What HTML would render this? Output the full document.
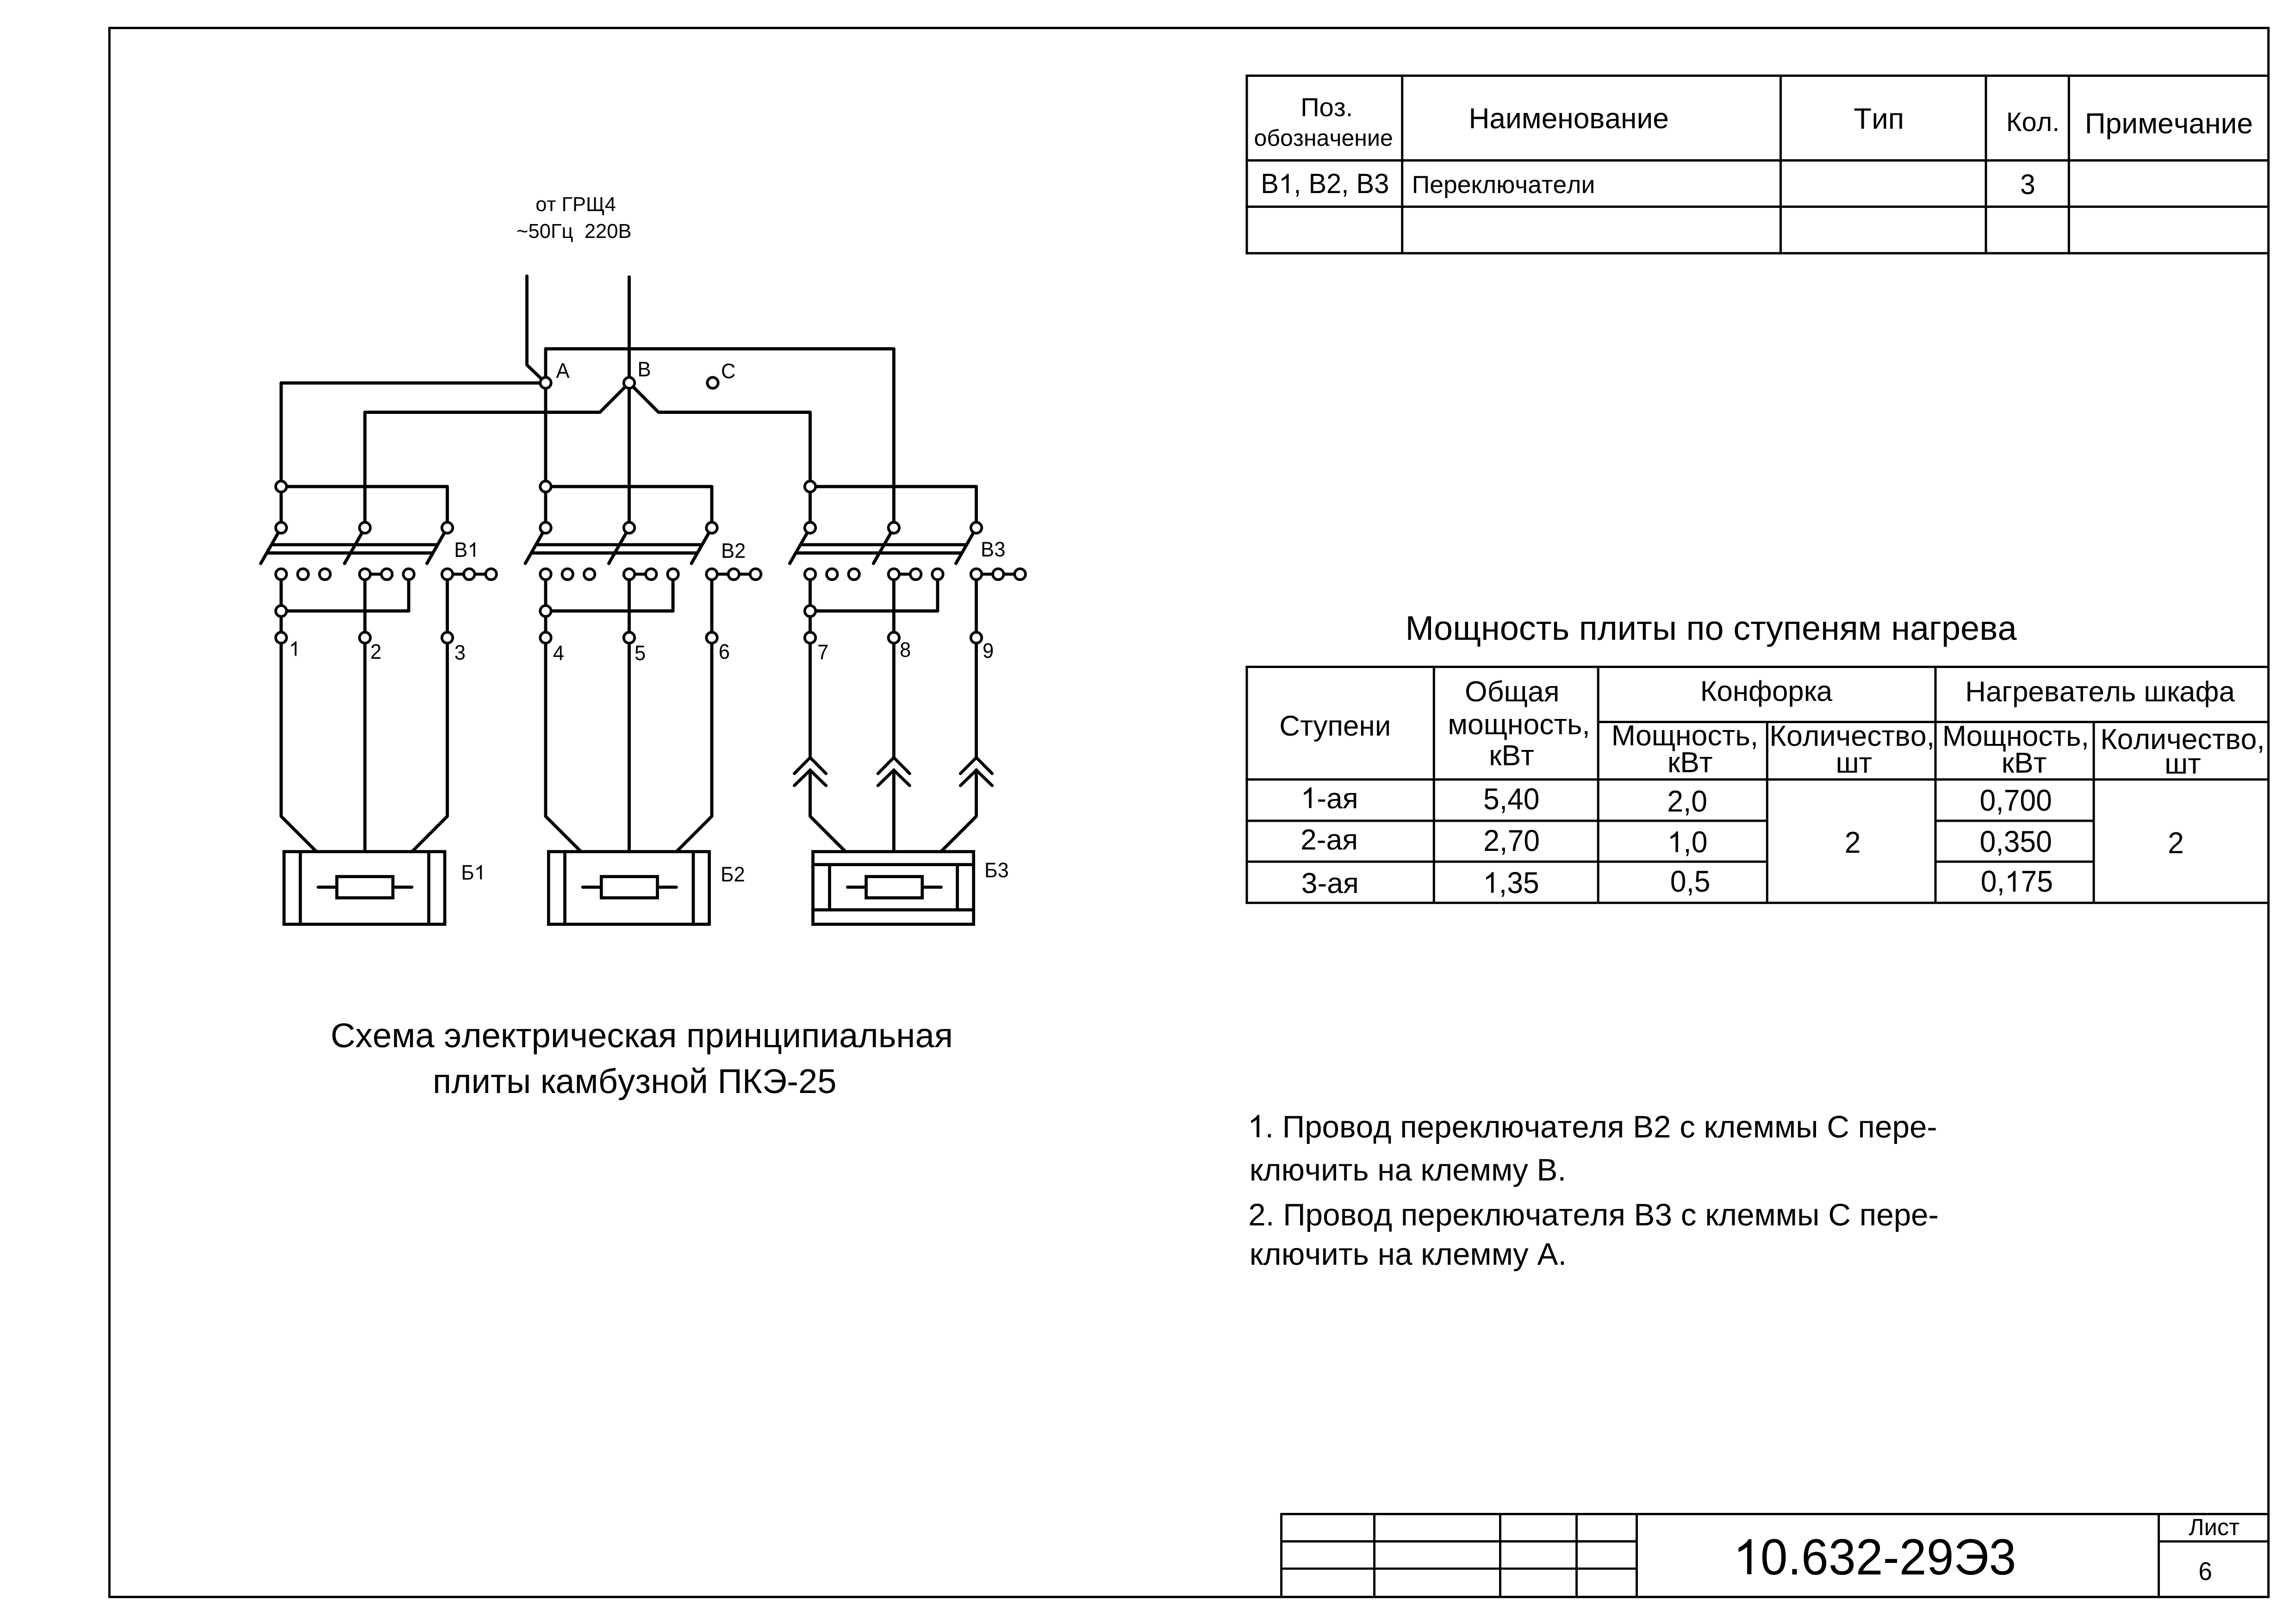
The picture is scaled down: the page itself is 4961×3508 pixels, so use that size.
<!DOCTYPE html>
<html><head><meta charset="utf-8"><title>10.632-29ЭЗ</title>
<style>
html,body{margin:0;padding:0;background:#fff;}
body{width:4961px;height:3508px;overflow:hidden;}
svg{display:block;will-change:transform;}
text{font-family:"Liberation Sans",sans-serif;fill:#000;font-kerning:none;white-space:pre;text-rendering:geometricPrecision;}
.t{stroke:#000;stroke-width:5;fill:none;stroke-linecap:butt;}
.b{stroke:#000;stroke-width:4.9;fill:none;}
.w{stroke:#000;stroke-width:6.9;fill:none;stroke-linecap:round;stroke-linejoin:round;}
.wb{stroke:#000;stroke-width:6.8;fill:none;stroke-linecap:butt;}
.wl{stroke:#000;stroke-width:6.6;fill:none;stroke-linecap:round;}
.wc{stroke:#000;stroke-width:6.6;fill:none;stroke-linecap:round;stroke-linejoin:miter;}
.bx{stroke:#000;stroke-width:6.7;fill:none;stroke-linejoin:miter;}
.c{stroke:#000;stroke-width:5.7;fill:#fff;}
.g{fill:#000;stroke:none;}
</style></head><body>
<svg width="4961" height="3508" viewBox="0 0 4961 3508">
<rect x="236.4" y="60.4" width="4665.05" height="3389.2" class="t"/>
<line x1="2691.5" y1="163.4" x2="4901.45" y2="163.4" class="t"/>
<line x1="2691.5" y1="346.4" x2="4901.45" y2="346.4" class="t"/>
<line x1="2691.5" y1="446.4" x2="4901.45" y2="446.4" class="t"/>
<line x1="2691.5" y1="547.0" x2="4901.45" y2="547.0" class="t"/>
<line x1="2694.0" y1="163.4" x2="2694.0" y2="547.0" class="t"/>
<line x1="3029.7" y1="163.4" x2="3029.7" y2="547.0" class="t"/>
<line x1="3847.5" y1="163.4" x2="3847.5" y2="547.0" class="t"/>
<line x1="4291.0" y1="163.4" x2="4291.0" y2="547.0" class="t"/>
<line x1="4470.3" y1="163.4" x2="4470.3" y2="547.0" class="t"/>
<line x1="2691.5" y1="1440.5" x2="4901.45" y2="1440.5" class="t"/>
<line x1="3453.2" y1="1559.5" x2="4901.45" y2="1559.5" class="t"/>
<line x1="2691.5" y1="1683.8" x2="4901.45" y2="1683.8" class="t"/>
<line x1="2694.0" y1="1773.0" x2="3818.3" y2="1773.0" class="t"/>
<line x1="4182.0" y1="1773.0" x2="4524.0" y2="1773.0" class="t"/>
<line x1="2694.0" y1="1861.2" x2="3818.3" y2="1861.2" class="t"/>
<line x1="4182.0" y1="1861.2" x2="4524.0" y2="1861.2" class="t"/>
<line x1="2691.5" y1="1950.2" x2="4901.45" y2="1950.2" class="t"/>
<line x1="2694.0" y1="1440.5" x2="2694.0" y2="1950.2" class="t"/>
<line x1="3098.3" y1="1440.5" x2="3098.3" y2="1950.2" class="t"/>
<line x1="3453.2" y1="1440.5" x2="3453.2" y2="1950.2" class="t"/>
<line x1="4182.0" y1="1440.5" x2="4182.0" y2="1950.2" class="t"/>
<line x1="3818.3" y1="1559.5" x2="3818.3" y2="1950.2" class="t"/>
<line x1="4524.0" y1="1559.5" x2="4524.0" y2="1950.2" class="t"/>
<line x1="2766.25" y1="3270.45" x2="4901.45" y2="3270.45" class="b"/>
<line x1="2768.55" y1="3329.5" x2="3536.5" y2="3329.5" class="b"/>
<line x1="2768.55" y1="3388.4" x2="3536.5" y2="3388.4" class="b"/>
<line x1="4664.45" y1="3329.6" x2="4901.45" y2="3329.6" class="b"/>
<line x1="2768.55" y1="3270.45" x2="2768.55" y2="3449.6" class="b"/>
<line x1="2969.55" y1="3270.45" x2="2969.55" y2="3449.6" class="b"/>
<line x1="3241.5" y1="3270.45" x2="3241.5" y2="3449.6" class="b"/>
<line x1="3406.55" y1="3270.45" x2="3406.55" y2="3449.6" class="b"/>
<line x1="3536.5" y1="3270.45" x2="3536.5" y2="3449.6" class="b"/>
<line x1="4664.45" y1="3270.45" x2="4664.45" y2="3449.6" class="b"/>
<path d="M1138.5,596.4 V788.3 L1179.0,827.0" class="w"/>
<path d="M1359.5,598.4 V827.0" class="w"/>
<path d="M1179.0,827.3 H607.45 V1140.0" class="w"/>
<path d="M1179.0,827.0 V753.5 H1931.3 V1140.0" class="w"/>
<path d="M1179.0,827.0 V1140.0" class="w"/>
<path d="M1359.5,827.0 L1296.2,890.5 H788.5 V1140.0" class="w"/>
<path d="M1359.5,827.0 V1140.0" class="w"/>
<path d="M1359.5,827.0 L1422.8,890.5 H1750.5 V1140.0" class="w"/>
<path d="M607.45,1051.0 H966.5 V1140.0" class="w"/>
<path d="M607.45,1140.0 L563.45,1217.0" class="w"/>
<path d="M788.5,1140.0 L744.5,1217.0" class="w"/>
<path d="M966.5,1140.0 L922.5,1217.0" class="w"/>
<path d="M586.5357142857143,1176.6 H945.5857142857143" class="wb"/>
<path d="M576.3071428571429,1194.5 H935.3571428571429" class="wb"/>
<path d="M788.5,1240.3 H835.8" class="wl"/>
<path d="M966.5,1240.3 H1061.1" class="wl"/>
<path d="M607.45,1240.3 V1377.5" class="w"/>
<path d="M788.5,1240.3 V1377.5" class="w"/>
<path d="M966.5,1240.3 V1377.5" class="w"/>
<path d="M883.1,1240.3 V1319.8 H607.45" class="w"/>
<path d="M607.45,1377.5 V1763.3 L682.95,1838.8" class="w"/>
<path d="M788.5,1377.5 V1838.8" class="w"/>
<path d="M966.5,1377.5 V1763.3 L891.0,1838.8" class="w"/>
<path d="M1179.0,1051.0 H1538.0 V1140.0" class="w"/>
<path d="M1179.0,1140.0 L1135.0,1217.0" class="w"/>
<path d="M1359.5,1140.0 L1315.5,1217.0" class="w"/>
<path d="M1538.0,1140.0 L1494.0,1217.0" class="w"/>
<path d="M1158.0857142857144,1176.6 H1517.0857142857144" class="wb"/>
<path d="M1147.857142857143,1194.5 H1506.857142857143" class="wb"/>
<path d="M1359.5,1240.3 H1406.8" class="wl"/>
<path d="M1538.0,1240.3 H1632.6" class="wl"/>
<path d="M1179.0,1240.3 V1377.5" class="w"/>
<path d="M1359.5,1240.3 V1377.5" class="w"/>
<path d="M1538.0,1240.3 V1377.5" class="w"/>
<path d="M1454.1,1240.3 V1319.8 H1179.0" class="w"/>
<path d="M1179.0,1377.5 V1763.3 L1254.5,1838.8" class="w"/>
<path d="M1359.5,1377.5 V1838.8" class="w"/>
<path d="M1538.0,1377.5 V1763.3 L1462.5,1838.8" class="w"/>
<path d="M1750.5,1051.0 H2109.5 V1140.0" class="w"/>
<path d="M1750.5,1140.0 L1706.5,1217.0" class="w"/>
<path d="M1931.3,1140.0 L1887.3,1217.0" class="w"/>
<path d="M2109.5,1140.0 L2065.5,1217.0" class="w"/>
<path d="M1729.5857142857144,1176.6 H2088.5857142857144" class="wb"/>
<path d="M1719.357142857143,1194.5 H2078.3571428571427" class="wb"/>
<path d="M1931.3,1240.3 H1978.6" class="wl"/>
<path d="M2109.5,1240.3 H2204.1" class="wl"/>
<path d="M1750.5,1240.3 V1377.5" class="w"/>
<path d="M1931.3,1240.3 V1377.5" class="w"/>
<path d="M2109.5,1240.3 V1377.5" class="w"/>
<path d="M2025.8999999999999,1240.3 V1319.8 H1750.5" class="w"/>
<path d="M1750.5,1377.5 V1636.4" class="w"/>
<path d="M1716.3,1670.8 L1750.5,1636.4 L1784.7,1670.8" class="wc"/>
<path d="M1716.3,1696.8 L1750.5,1663.6 L1784.7,1696.8" class="wc"/>
<path d="M1931.3,1377.5 V1636.4" class="w"/>
<path d="M1897.1,1670.8 L1931.3,1636.4 L1965.5,1670.8" class="wc"/>
<path d="M1897.1,1696.8 L1931.3,1663.6 L1965.5,1696.8" class="wc"/>
<path d="M2109.5,1377.5 V1636.4" class="w"/>
<path d="M2075.3,1670.8 L2109.5,1636.4 L2143.7,1670.8" class="wc"/>
<path d="M2075.3,1696.8 L2109.5,1663.6 L2143.7,1696.8" class="wc"/>
<path d="M1750.5,1663.6 V1763.3 L1826.0,1838.8" class="w"/>
<path d="M1931.3,1663.6 V1838.8" class="w"/>
<path d="M2109.5,1663.6 V1763.3 L2034.0,1838.8" class="w"/>
<rect x="613.75" y="1839.6" width="347.3" height="156.9000000000001" class="bx"/>
<line x1="648.95" y1="1839.6" x2="648.95" y2="1996.5" class="bx"/>
<line x1="926.4499999999999" y1="1839.6" x2="926.4499999999999" y2="1996.5" class="bx"/>
<rect x="727.75" y="1893.5" width="121.2" height="45.9" class="bx"/>
<path d="M687.65,1916.4 H726.25" class="wl"/>
<path d="M850.45,1916.4 H889.75" class="wl"/>
<rect x="1185.3" y="1839.6" width="347.3" height="156.9000000000001" class="bx"/>
<line x1="1220.5" y1="1839.6" x2="1220.5" y2="1996.5" class="bx"/>
<line x1="1498.0" y1="1839.6" x2="1498.0" y2="1996.5" class="bx"/>
<rect x="1299.3" y="1893.5" width="121.2" height="45.9" class="bx"/>
<path d="M1259.2,1916.4 H1297.8" class="wl"/>
<path d="M1422.0,1916.4 H1461.3" class="wl"/>
<rect x="1756.5" y="1839.6" width="347.1500000000001" height="156.9000000000001" class="bx"/>
<line x1="1756.5" y1="1867.6" x2="2103.65" y2="1867.6" class="bx"/>
<line x1="1756.5" y1="1965.4" x2="2103.65" y2="1965.4" class="bx"/>
<line x1="1792.45" y1="1867.6" x2="1792.45" y2="1965.4" class="bx"/>
<line x1="2068.6" y1="1867.6" x2="2068.6" y2="1965.4" class="bx"/>
<rect x="1871.5" y="1893.5" width="121.2" height="45.9" class="bx"/>
<path d="M1831.4,1916.4 H1870.0" class="wl"/>
<path d="M1994.2,1916.4 H2033.5" class="wl"/>
<circle cx="1179.0" cy="827.0" r="11.8" class="c"/>
<circle cx="1359.5" cy="827.0" r="11.8" class="c"/>
<circle cx="1540.0" cy="827.0" r="11.8" class="c"/>
<circle cx="607.45" cy="1051.0" r="11.8" class="c"/>
<circle cx="607.45" cy="1140.0" r="11.8" class="c"/>
<circle cx="607.45" cy="1377.5" r="11.8" class="c"/>
<circle cx="607.45" cy="1240.3" r="11.8" class="c"/>
<circle cx="654.75" cy="1240.3" r="11.8" class="c"/>
<circle cx="702.0500000000001" cy="1240.3" r="11.8" class="c"/>
<circle cx="788.5" cy="1140.0" r="11.8" class="c"/>
<circle cx="788.5" cy="1377.5" r="11.8" class="c"/>
<circle cx="788.5" cy="1240.3" r="11.8" class="c"/>
<circle cx="835.8" cy="1240.3" r="11.8" class="c"/>
<circle cx="883.1" cy="1240.3" r="11.8" class="c"/>
<circle cx="966.5" cy="1140.0" r="11.8" class="c"/>
<circle cx="966.5" cy="1377.5" r="11.8" class="c"/>
<circle cx="966.5" cy="1240.3" r="11.8" class="c"/>
<circle cx="1013.8" cy="1240.3" r="11.8" class="c"/>
<circle cx="1061.1" cy="1240.3" r="11.8" class="c"/>
<circle cx="607.45" cy="1319.8" r="11.8" class="c"/>
<circle cx="1179.0" cy="1051.0" r="11.8" class="c"/>
<circle cx="1179.0" cy="1140.0" r="11.8" class="c"/>
<circle cx="1179.0" cy="1377.5" r="11.8" class="c"/>
<circle cx="1179.0" cy="1240.3" r="11.8" class="c"/>
<circle cx="1226.3" cy="1240.3" r="11.8" class="c"/>
<circle cx="1273.6" cy="1240.3" r="11.8" class="c"/>
<circle cx="1359.5" cy="1140.0" r="11.8" class="c"/>
<circle cx="1359.5" cy="1377.5" r="11.8" class="c"/>
<circle cx="1359.5" cy="1240.3" r="11.8" class="c"/>
<circle cx="1406.8" cy="1240.3" r="11.8" class="c"/>
<circle cx="1454.1" cy="1240.3" r="11.8" class="c"/>
<circle cx="1538.0" cy="1140.0" r="11.8" class="c"/>
<circle cx="1538.0" cy="1377.5" r="11.8" class="c"/>
<circle cx="1538.0" cy="1240.3" r="11.8" class="c"/>
<circle cx="1585.3" cy="1240.3" r="11.8" class="c"/>
<circle cx="1632.6" cy="1240.3" r="11.8" class="c"/>
<circle cx="1179.0" cy="1319.8" r="11.8" class="c"/>
<circle cx="1750.5" cy="1051.0" r="11.8" class="c"/>
<circle cx="1750.5" cy="1140.0" r="11.8" class="c"/>
<circle cx="1750.5" cy="1377.5" r="11.8" class="c"/>
<circle cx="1750.5" cy="1240.3" r="11.8" class="c"/>
<circle cx="1797.8" cy="1240.3" r="11.8" class="c"/>
<circle cx="1845.1" cy="1240.3" r="11.8" class="c"/>
<circle cx="1931.3" cy="1140.0" r="11.8" class="c"/>
<circle cx="1931.3" cy="1377.5" r="11.8" class="c"/>
<circle cx="1931.3" cy="1240.3" r="11.8" class="c"/>
<circle cx="1978.6" cy="1240.3" r="11.8" class="c"/>
<circle cx="2025.8999999999999" cy="1240.3" r="11.8" class="c"/>
<circle cx="2109.5" cy="1140.0" r="11.8" class="c"/>
<circle cx="2109.5" cy="1377.5" r="11.8" class="c"/>
<circle cx="2109.5" cy="1240.3" r="11.8" class="c"/>
<circle cx="2156.8" cy="1240.3" r="11.8" class="c"/>
<circle cx="2204.1" cy="1240.3" r="11.8" class="c"/>
<circle cx="1750.5" cy="1319.8" r="11.8" class="c"/>
<text x="2810.14" y="251.3" font-size="56.3">Поз.</text>
<text x="2709.50" y="315.0" font-size="50.1">обозначение</text>
<text x="3173.39" y="276.5" font-size="62.3">Наименование</text>
<text x="4005.37" y="277.9" font-size="63.6">Тип</text>
<text x="4334.87" y="282.5" font-size="57.7">Кол.</text>
<text x="4504.74" y="287.5" font-size="62.4">Примечание</text>
<text transform="translate(2724.24,417.1) scale(1,1.04)" font-size="58.0">В</text>
<path d="M763,0 L583,0 L583,1147 Q518,1085 412.5,1023 Q307,961 223,930 L223,1104 Q374,1175 487,1276 Q600,1377 647,1466 L763,1466 Z" transform="translate(2762.93,417.1) scale(0.02832,-0.02832)" class="g"/>
<text transform="translate(2795.19,417.1) scale(1,1.04)" font-size="58.0">, В2, В3</text>
<text x="3050.86" y="417.1" font-size="53.5">Переключатели</text>
<text transform="translate(4364.96,419.2) scale(1,1.04)" font-size="58.8">3</text>
<text x="3036.53" y="1382.0" font-size="73.9">Мощность плиты по ступеням нагрева</text>
<text x="2764.25" y="1589.2" font-size="62.0">Ступени</text>
<text x="3165.12" y="1515.4" font-size="62.5">Общая</text>
<text x="3128.17" y="1585.7" font-size="62.4">мощность,</text>
<text x="3217.15" y="1653.0" font-size="62.5">кВт</text>
<text x="3673.63" y="1514.3" font-size="61.8">Конфорка</text>
<text x="3481.87" y="1610.1" font-size="62.5">Мощность,</text>
<text x="3603.00" y="1668.0" font-size="62.5">кВт</text>
<text x="3823.35" y="1611.2" font-size="62.8">Количество,</text>
<text x="3966.38" y="1668.7" font-size="62.5">шт</text>
<text x="4246.22" y="1515.4" font-size="61.9">Нагреватель шкафа</text>
<text x="4196.67" y="1611.2" font-size="62.5">Мощность,</text>
<text x="4324.75" y="1668.7" font-size="62.5">кВт</text>
<text x="4538.16" y="1617.5" font-size="62.6">Количество,</text>
<text x="4676.98" y="1671.1" font-size="62.5">шт</text>
<path d="M763,0 L583,0 L583,1147 Q518,1085 412.5,1023 Q307,961 223,930 L223,1104 Q374,1175 487,1276 Q600,1377 647,1466 L763,1466 Z" transform="translate(2810.48,1745.6) scale(0.03052,-0.03052)" class="g"/>
<text x="2845.24" y="1745.6" font-size="62.5">-ая</text>
<text x="2810.01" y="1834.5" font-size="62.5">2-ая</text>
<text x="2811.79" y="1928.5" font-size="62.5">3-ая</text>
<text transform="translate(3204.90,1748.4) scale(1,1.04)" font-size="62.5">5,40</text>
<text transform="translate(3205.28,1837.9) scale(1,1.04)" font-size="62.5">2,70</text>
<path d="M763,0 L583,0 L583,1147 Q518,1085 412.5,1023 Q307,961 223,930 L223,1104 Q374,1175 487,1276 Q600,1377 647,1466 L763,1466 Z" transform="translate(3204.09,1928.5) scale(0.03052,-0.03052)" class="g"/>
<text transform="translate(3238.85,1928.5) scale(1,1.04)" font-size="62.5">,35</text>
<text transform="translate(3602.16,1752.9) scale(1,1.04)" font-size="62.5">2,0</text>
<path d="M763,0 L583,0 L583,1147 Q518,1085 412.5,1023 Q307,961 223,930 L223,1104 Q374,1175 487,1276 Q600,1377 647,1466 L763,1466 Z" transform="translate(3602.58,1840.7) scale(0.03052,-0.03052)" class="g"/>
<text transform="translate(3637.34,1840.7) scale(1,1.04)" font-size="62.5">,0</text>
<text transform="translate(3608.65,1926.1) scale(1,1.04)" font-size="62.5">0,5</text>
<text transform="translate(3985.67,1841.8) scale(1,1.04)" font-size="62.5">2</text>
<text transform="translate(4277.45,1750.8) scale(1,1.04)" font-size="62.5">0,700</text>
<text transform="translate(4277.45,1839.7) scale(1,1.04)" font-size="62.5">0,350</text>
<text transform="translate(4279.64,1926.1) scale(1,1.04)" font-size="62.5">0,</text>
<path d="M763,0 L583,0 L583,1147 Q518,1085 412.5,1023 Q307,961 223,930 L223,1104 Q374,1175 487,1276 Q600,1377 647,1466 L763,1466 Z" transform="translate(4331.76,1926.1) scale(0.03052,-0.03052)" class="g"/>
<text transform="translate(4366.52,1926.1) scale(1,1.04)" font-size="62.5">75</text>
<text transform="translate(4684.07,1843.2) scale(1,1.04)" font-size="62.5">2</text>
<text x="714.13" y="2262.0" font-size="74.3">Схема электрическая принципиальная</text>
<text x="935.06" y="2360.8" font-size="74.2">плиты камбузной ПКЭ-25</text>
<path d="M763,0 L583,0 L583,1147 Q518,1085 412.5,1023 Q307,961 223,930 L223,1104 Q374,1175 487,1276 Q600,1377 647,1466 L763,1466 Z" transform="translate(2695.97,2456.5) scale(0.03287,-0.03287)" class="g"/>
<text x="2733.40" y="2456.5" font-size="67.3">. Провод переключателя В2 с клеммы С пере-</text>
<text x="2699.87" y="2550.0" font-size="67.3">ключить на клемму В.</text>
<text x="2697.21" y="2646.5" font-size="67.4">2. Провод переключателя В3 с клеммы С пере-</text>
<text x="2699.86" y="2732.4" font-size="67.4">ключить на клемму А.</text>
<path d="M763,0 L583,0 L583,1147 Q518,1085 412.5,1023 Q307,961 223,930 L223,1104 Q374,1175 487,1276 Q600,1377 647,1466 L763,1466 Z" transform="translate(3744.98,3400.5) scale(0.05168,-0.05168)" class="g"/>
<text transform="translate(3803.83,3400.5) scale(1,1.04)" font-size="105.8">0.632-29Э3</text>
<text x="4729.15" y="3315.8" font-size="50.7">Лист</text>
<text transform="translate(4750.30,3412.9) scale(1,1.04)" font-size="53.3">6</text>
<text x="1157.27" y="455.9" font-size="43.5">от ГРЩ4</text>
<text x="1116.04" y="513.7" font-size="43.6">~50Гц  220В</text>
<text transform="translate(1201.46,816.2) scale(1,1.04)" font-size="43.6">А</text>
<text transform="translate(1377.62,813.4) scale(1,1.04)" font-size="43.6">В</text>
<text transform="translate(1557.98,817.3) scale(1,1.04)" font-size="43.6">С</text>
<text transform="translate(981.30,1202.7) scale(1,1.04)" font-size="43.6">В</text>
<path d="M763,0 L583,0 L583,1147 Q518,1085 412.5,1023 Q307,961 223,930 L223,1104 Q374,1175 487,1276 Q600,1377 647,1466 L763,1466 Z" transform="translate(1010.38,1202.7) scale(0.02129,-0.02129)" class="g"/>
<text transform="translate(1557.94,1204.8) scale(1,1.04)" font-size="43.6">В2</text>
<text transform="translate(2119.11,1201.8) scale(1,1.04)" font-size="43.6">В3</text>
<path d="M763,0 L583,0 L583,1147 Q518,1085 412.5,1023 Q307,961 223,930 L223,1104 Q374,1175 487,1276 Q600,1377 647,1466 L763,1466 Z" transform="translate(624.40,1416.5) scale(0.02129,-0.02129)" class="g"/>
<text transform="translate(799.98,1422.5) scale(1,1.04)" font-size="43.6">2</text>
<text transform="translate(981.70,1424.7) scale(1,1.04)" font-size="43.6">3</text>
<text transform="translate(1194.71,1425.7) scale(1,1.04)" font-size="43.6">4</text>
<text transform="translate(1371.12,1425.7) scale(1,1.04)" font-size="43.6">5</text>
<text transform="translate(1552.68,1423.3) scale(1,1.04)" font-size="43.6">6</text>
<text transform="translate(1765.95,1423.7) scale(1,1.04)" font-size="43.6">7</text>
<text transform="translate(1943.88,1418.7) scale(1,1.04)" font-size="43.6">8</text>
<text transform="translate(2123.04,1420.7) scale(1,1.04)" font-size="43.6">9</text>
<text transform="translate(996.13,1899.6) scale(1,1.04)" font-size="43.6">Б</text>
<path d="M763,0 L583,0 L583,1147 Q518,1085 412.5,1023 Q307,961 223,930 L223,1104 Q374,1175 487,1276 Q600,1377 647,1466 L763,1466 Z" transform="translate(1024.75,1899.6) scale(0.02129,-0.02129)" class="g"/>
<text transform="translate(1556.93,1903.8) scale(1,1.04)" font-size="43.6">Б2</text>
<text transform="translate(2126.99,1894.9) scale(1,1.04)" font-size="43.6">Б3</text>
</svg>
</body></html>
